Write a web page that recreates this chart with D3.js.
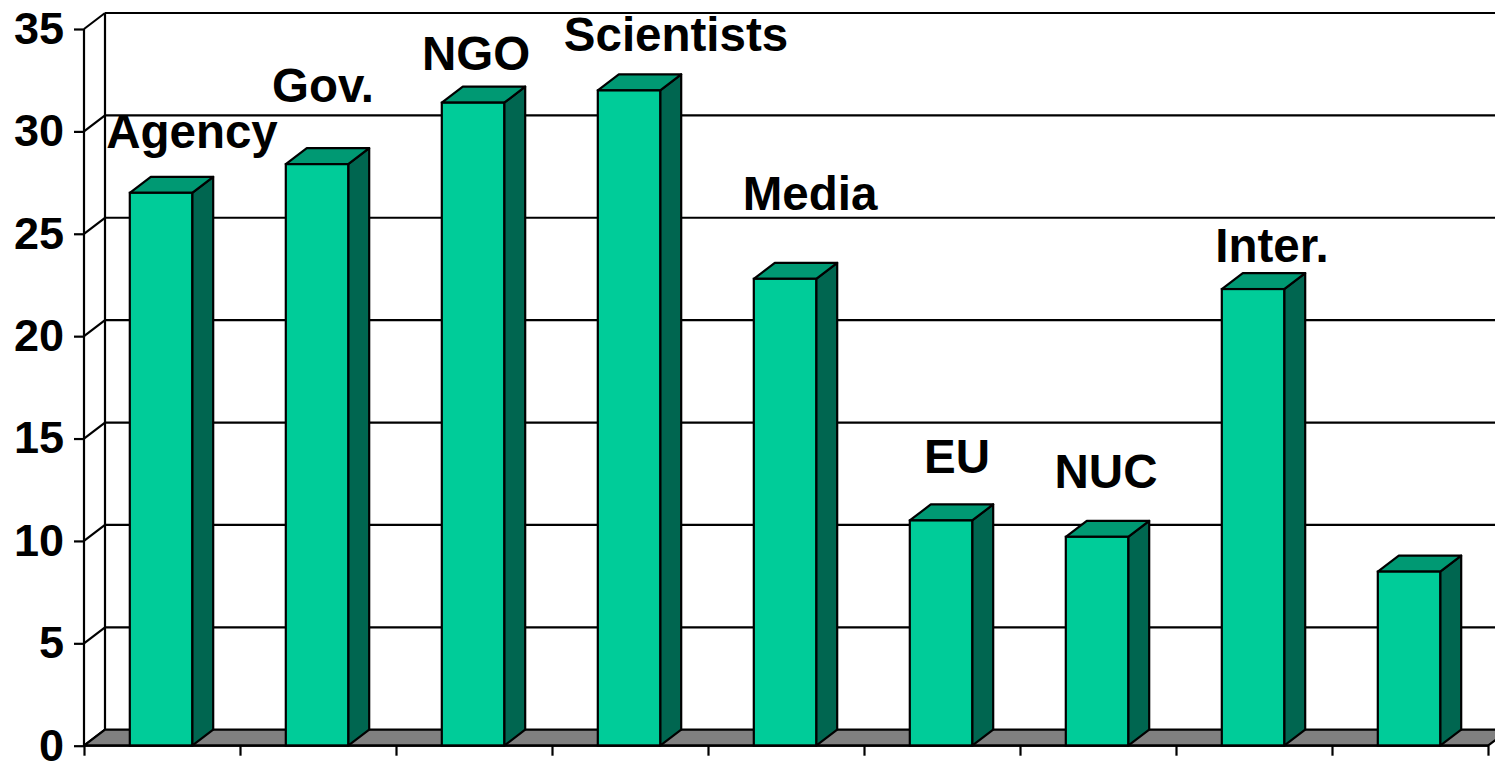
<!DOCTYPE html>
<html>
<head>
<meta charset="utf-8">
<script src="https://cdn.jsdelivr.net/npm/d3@7"></script>
<style>
  html, body { margin: 0; padding: 0; background: #ffffff; overflow: hidden; }
  svg { display: block; }
  text { font-family: "Liberation Sans", Arial, sans-serif; font-weight: bold; fill: #000; }
</style>
</head>
<body>
<svg id="chart" width="1495" height="762"></svg>
<script>
// Stakeholder groups and their scores
const categories = ["Agency", "Gov.", "NGO", "Scientists", "Media", "EU", "NUC", "Inter.", "Other"];
const values = [27.0, 28.4, 31.4, 32.0, 22.8, 11.0, 10.2, 22.3, 8.5];
const barLabels = ["Agency", "Gov.", "NGO", "Scientists", "Media", "EU", "NUC", "Inter.", ""];
const yTicks = [0, 5, 10, 15, 20, 25, 30, 35];

// Hand-placed label nudges (px) relative to the top-front centre of each bar
const labelNudge = [[31, -45], [6, -62], [3, -33], [47, -39], [25, -69], [16, -47], [9, -49], [19, -27], [0, 0]];

const svg = d3.select("#chart");
const W = 1495;

// 3D depth offset of the chart box
const DX = 21, DY = -16;

const x = d3.scaleBand()
  .domain(d3.range(categories.length))
  .range([84, 1488])
  .padding(0);

const y = d3.scaleLinear()
  .domain([0, 35])
  .range([745.7, 29]);

const barW = x.bandwidth() * 0.4;
const barX = i => x(i) + (x.bandwidth() - barW) / 2 - 1;

const front = { left: x.range()[0], right: x.range()[1], base: y(0), top: y(35) };

// Back wall gridlines
svg.append("g")
  .selectAll("line")
  .data(yTicks.filter(t => t > 0))
  .join("line")
  .attr("x1", front.left + DX)
  .attr("x2", W + 10)
  .attr("y1", d => y(d) + DY)
  .attr("y2", d => y(d) + DY)
  .attr("stroke", "#000")
  .attr("stroke-width", 2.2);

// Back wall left edge
svg.append("line")
  .attr("x1", front.left + DX).attr("x2", front.left + DX)
  .attr("y1", y(35) + DY).attr("y2", y(0) + DY)
  .attr("stroke", "#000").attr("stroke-width", 2.2);

// Side wall diagonals at each tick
svg.append("g")
  .selectAll("line")
  .data(yTicks)
  .join("line")
  .attr("x1", front.left)
  .attr("x2", front.left + DX)
  .attr("y1", d => y(d))
  .attr("y2", d => y(d) + DY)
  .attr("stroke", "#000")
  .attr("stroke-width", 2.2);

// Floor
const floorPts = [
  [front.left, front.base],
  [front.left + DX, front.base + DY],
  [front.right + DX, front.base + DY],
  [front.right, front.base]
];
svg.append("polygon")
  .attr("points", floorPts.map(p => p.join(",")).join(" "))
  .attr("fill", "#808080")
  .attr("stroke", "#000")
  .attr("stroke-width", 2.2)
  .attr("stroke-linejoin", "round");

// Bars
const bars = svg.append("g")
  .selectAll("g")
  .data(values)
  .join("g");

bars.append("polygon") // right side face
  .attr("points", (d, i) => {
    const xr = barX(i) + barW, yt = y(d), yb = y(0);
    return [[xr, yb], [xr + DX, yb + DY], [xr + DX, yt + DY], [xr, yt]].map(p => p.join(",")).join(" ");
  })
  .attr("fill", "#006650")
  .attr("stroke", "#000")
  .attr("stroke-width", 2.2)
  .attr("stroke-linejoin", "round");

bars.append("polygon") // top face
  .attr("points", (d, i) => {
    const xl = barX(i), xr = xl + barW, yt = y(d);
    return [[xl, yt], [xl + DX, yt + DY], [xr + DX, yt + DY], [xr, yt]].map(p => p.join(",")).join(" ");
  })
  .attr("fill", "#009973")
  .attr("stroke", "#000")
  .attr("stroke-width", 2.2)
  .attr("stroke-linejoin", "round");

bars.append("rect") // front face
  .attr("x", (d, i) => barX(i))
  .attr("y", d => y(d))
  .attr("width", barW)
  .attr("height", d => y(0) - y(d))
  .attr("fill", "#00CC99")
  .attr("stroke", "#000")
  .attr("stroke-width", 2.2);

// Front vertical axis
const yAxis = d3.axisLeft(y)
  .tickValues(yTicks)
  .tickSize(10)
  .tickPadding(10)
  .tickFormat(d3.format("d"));

const gy = svg.append("g")
  .attr("transform", `translate(${front.left},0)`)
  .call(yAxis);
gy.select(".domain").attr("stroke", "#000").attr("stroke-width", 2.2)
  .attr("d", `M0,${y(35)}V${y(0)}`);
gy.selectAll(".tick line").attr("stroke", "#000").attr("stroke-width", 2.2);
gy.selectAll(".tick text")
  .attr("font-size", 45)
  .attr("font-family", "'Liberation Sans', Arial, sans-serif")
  .attr("font-weight", "bold")
  .attr("dy", "0.32em")
  .attr("fill", "#000");

// Front horizontal axis with category separators
const xAxis = d3.axisBottom(d3.scaleLinear().domain([0, categories.length]).range([front.left, front.right]))
  .tickValues(d3.range(categories.length + 1))
  .tickSize(10)
  .tickFormat("");
const gx = svg.append("g")
  .attr("transform", `translate(0,${front.base})`)
  .call(xAxis);
gx.select(".domain").attr("stroke", "#000").attr("stroke-width", 2.2)
  .attr("d", `M${front.left},0H${front.right}`);
gx.selectAll(".tick line").attr("stroke", "#000").attr("stroke-width", 2.2);

// Bar labels
svg.append("g")
  .selectAll("text")
  .data(values)
  .join("text")
  .attr("x", (d, i) => barX(i) + barW / 2 + labelNudge[i][0])
  .attr("y", (d, i) => y(d) + labelNudge[i][1])
  .attr("text-anchor", "middle")
  .attr("font-size", 47.5)
  .text((d, i) => barLabels[i]);
</script>
</body>
</html>
